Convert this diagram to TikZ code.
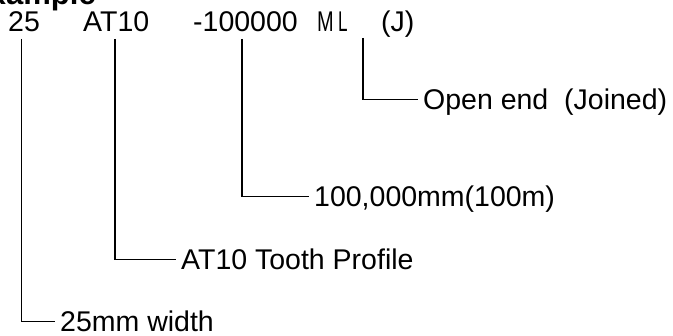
\documentclass[tikz,border=0pt]{standalone}
\usepackage{fontspec}
\setmainfont{Liberation Sans}
\begin{document}
\begin{tikzpicture}[x=1pt,y=-1pt,
  code/.style={anchor=base west,inner sep=0pt,font=\fontsize{28.5}{30}\selectfont},
  lbl/.style={anchor=west,inner xsep=5pt,inner ysep=0pt,text height=20pt,text depth=0pt,font=\fontsize{28.5}{30}\selectfont},
  lead/.style={draw=black,line width=1.2pt}]
\useasboundingbox (0,0) rectangle (673,336);
\clip (0,0) rectangle (673,336);
\node[anchor=base east,inner sep=0pt,font=\fontsize{31}{33}\selectfont\bfseries] (ex) at (96,5) {Example};
\node[code] (t25) at (8,32) {25};
\node[code] (tat) at (83,32) {AT10};
\node[code] (tlen) at (193,32) {-100000};
\node[code] (tm) at (317,32) {\scalebox{0.7}[1]{M}};
\node[code] (tl) at (338,32) {\scalebox{0.6}[1]{L}};
\node[code] (tj) at (381,32) {(J)};
\coordinate (c1) at (21.5,39);
\coordinate (c2) at (115,39);
\coordinate (c3) at (242,39);
\coordinate (c4) at (363,38);
\node[lbl] (w25) at (55,321.5) {25mm width};
\node[lbl] (wat) at (176,259.5) {AT10 Tooth Profile};
\node[lbl] (wlen) at (309,196.5) {100,000mm(100m)};
\node[lbl] (wj) at (418,99.5) {Open end\ \ (Joined)};
\draw[lead] (c1) |- (w25.west);
\draw[lead] (c2) |- (wat.west);
\draw[lead] (c3) |- (wlen.west);
\draw[lead] (c4) |- (wj.west);
\end{tikzpicture}
\end{document}
